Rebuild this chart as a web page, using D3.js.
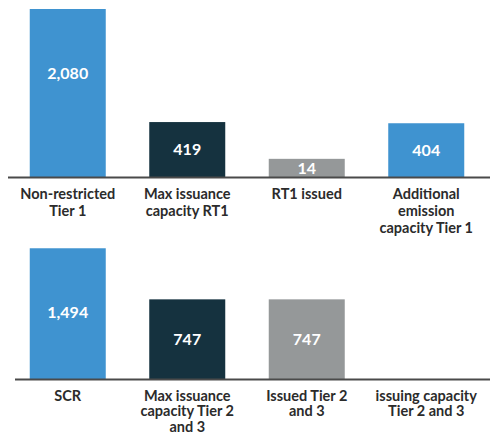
<!DOCTYPE html>
<html>
<head>
<meta charset="utf-8">
<script src="https://cdn.jsdelivr.net/npm/d3@7"></script>
<style>
  html, body { margin: 0; padding: 0; background: #fff; }
  svg { display: block; }
  text { font-family: Lato, "Noto Sans", sans-serif; font-weight: 700; }
</style>
</head>
<body>
<svg id="chart" width="490" height="436"></svg>
<script>
// ---- data ----
const topCategories = ["Non-restricted Tier 1", "Max issuance capacity RT1", "RT1 issued", "Additional emission capacity Tier 1"];
const topLabelLines = [["Non-restricted", "Tier 1"], ["Max issuance", "capacity RT1"], ["RT1 issued"], ["Additional", "emission", "capacity Tier 1"]];
const topValues = [2080, 419, 14, 404];

const bottomCategories = ["SCR", "Max issuance capacity Tier 2 and 3", "Issued Tier 2 and 3", "issuing capacity Tier 2 and 3"];
const bottomLabelLines = [["SCR"], ["Max issuance", "capacity Tier 2", "and 3"], ["Issued Tier 2", "and 3"], ["issuing capacity", "Tier 2 and 3"]];
const bottomValues = [1494, 747, 747, 0];

const colorKinds = ["total", "max", "issued", "remaining"];

// ---- layout / style ----
const W = 490, H = 436;
const colors = d3.scaleOrdinal().domain(colorKinds).range(["#3f93d0", "#15323f", "#959899", "#3f93d0"]);
const fmt = d3.format(",");
const maxVal = d3.max(topValues.concat(bottomValues));

// illustrative (non-proportional) height scale, as in the original graphic
const hScale = d3.scalePow().exponent(0.85).domain([0, maxVal]).range([16, 168]);

const svg = d3.select("#chart");

function panel(categories, values, labelLines, baseline, lineStart, lineH) {
  const x = d3.scalePoint().domain(categories).range([8, 486]).padding(0.5);
  const barW = 76;
  const g = svg.append("g");
  const data = categories.map((c, i) => ({ c, v: values[i], lines: labelLines[i], kind: colorKinds[i] }));

  const bars = data.filter(d => d.v > 0);
  g.selectAll("rect.bar").data(bars).join("rect")
    .attr("class", "bar")
    .attr("x", d => x(d.c) - barW / 2)
    .attr("width", barW)
    .attr("y", d => baseline - hScale(d.v))
    .attr("height", d => hScale(d.v))
    .attr("fill", d => colors(d.kind));

  g.append("line")
    .attr("x1", lineStart).attr("x2", W)
    .attr("y1", baseline + 0.5).attr("y2", baseline + 0.5)
    .attr("stroke", "#4a4a4a").attr("stroke-width", 2);

  g.selectAll("text.val").data(bars).join("text")
    .attr("class", "val")
    .attr("x", d => x(d.c))
    .attr("y", d => { const h = hScale(d.v); return baseline - h + Math.min(h / 2, 64); })
    .attr("dy", "0.36em")
    .attr("text-anchor", "middle")
    .attr("fill", "#fff")
    .attr("font-size", 16)
    .text(d => fmt(d.v));

  const labels = g.selectAll("text.cat").data(data).join("text")
    .attr("class", "cat")
    .attr("text-anchor", "middle")
    .attr("fill", "#2b2b2b")
    .attr("font-size", 14.5);
  labels.selectAll("tspan").data(d => d.lines.map(l => ({ l, x: x(d.c) }))).join("tspan")
    .attr("x", d => d.x)
    .attr("y", (d, i) => baseline + 21.5 + i * lineH)
    .text(d => d.l);
}

panel(topCategories, topValues, topLabelLines, 177, 8, 17);
panel(bottomCategories, bottomValues, bottomLabelLines, 379, 15, 15.5);
</script>
</body>
</html>
